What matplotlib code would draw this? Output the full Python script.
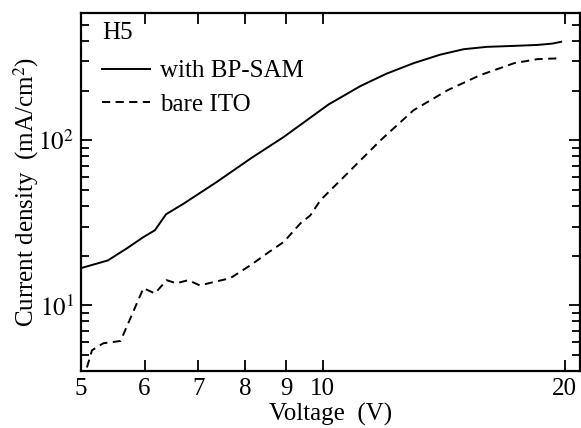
import numpy as np
import matplotlib
matplotlib.use("Agg")
import matplotlib.pyplot as plt
from matplotlib.ticker import FixedLocator, NullFormatter, NullLocator, LogLocator

plt.rcParams['font.family'] = ['Liberation Serif', 'DejaVu Serif']
plt.rcParams['mathtext.fontset'] = 'stix'

# J-V data
v_sam = [5.0, 5.4, 5.7, 5.98, 6.18, 6.38, 6.71, 7.38, 8.13, 8.94,
         10.17, 11.14, 12.0, 12.97, 14.0, 14.97, 16.0, 17.3, 18.5, 19.3, 19.8]
j_sam = [16.8, 18.7, 22.1, 25.9, 28.5, 35.6, 41.3, 55.9, 77.5, 104.7,
         165, 213, 253, 293, 330, 356, 368, 373, 378, 385, 395]

v_ito = [5.03, 5.16, 5.33, 5.6, 5.98, 6.18, 6.39, 6.57, 6.8, 7.03, 7.3, 7.67,
         8.13, 8.53, 8.94, 9.38, 9.65, 9.93, 10.73, 11.8, 12.97, 14.3, 15.7,
         17.3, 18.5, 19.8]
j_ito = [3.5, 5.34, 5.89, 6.08, 12.7, 11.8, 14.2, 13.6, 14.2, 13.2, 13.8, 14.6,
         17.5, 20.7, 24.2, 31.4, 35.1, 43.3, 63, 100, 152, 201, 248,
         293, 310, 314]

x_ticks = [5, 6, 7, 8, 9, 10, 20]
x_labels = ['5', '6', '7', '8', '9', '10', '20']

FS = 18

fig = plt.figure(figsize=(5.81, 4.28), dpi=100)
ax = fig.add_axes([0.1394, 0.1332, 0.8589, 0.8364])

ax.plot(v_sam, j_sam, color='black', lw=1.4, label='with BP-SAM')
ax.plot(v_ito, j_ito, color='black', lw=1.4, ls=(0, (4.2, 2.8)), label='bare ITO')

ax.set_xscale('log')
ax.set_yscale('log')
ax.set_xlim(5, 20.9)
ax.set_ylim(4, 590)

ax.xaxis.set_major_locator(FixedLocator(x_ticks))
ax.set_xticklabels(x_labels)
ax.xaxis.set_minor_locator(NullLocator())
ax.xaxis.set_minor_formatter(NullFormatter())

ax.yaxis.set_major_locator(FixedLocator([10, 100]))
ax.set_yticklabels([r'$10^1$', r'$10^2$'])
ax.yaxis.set_minor_locator(LogLocator(base=10, subs=np.arange(2, 10)))
ax.yaxis.set_minor_formatter(NullFormatter())

ax.tick_params(which='both', direction='in', top=True, right=True,
               labelsize=FS, width=1.3, pad=5)
ax.tick_params(which='major', length=8)
ax.tick_params(which='minor', length=6)
for s in ax.spines.values():
    s.set_linewidth(1.6)

ax.set_xlabel('Voltage  (V)', fontsize=FS, labelpad=2)
ax.set_ylabel('Current density  (mA/cm$^2$)', fontsize=FS, labelpad=-2)

ax.text(0.042, 0.974, 'H5', transform=ax.transAxes, fontsize=FS,
        va='top', ha='left')
ax.legend(loc='upper left', bbox_to_anchor=(0.007, 0.918), frameon=False,
          fontsize=FS, handlelength=1.92, handletextpad=0.4,
          labelspacing=0.44, borderaxespad=0.3)

fig.savefig('out.png', dpi=100)
